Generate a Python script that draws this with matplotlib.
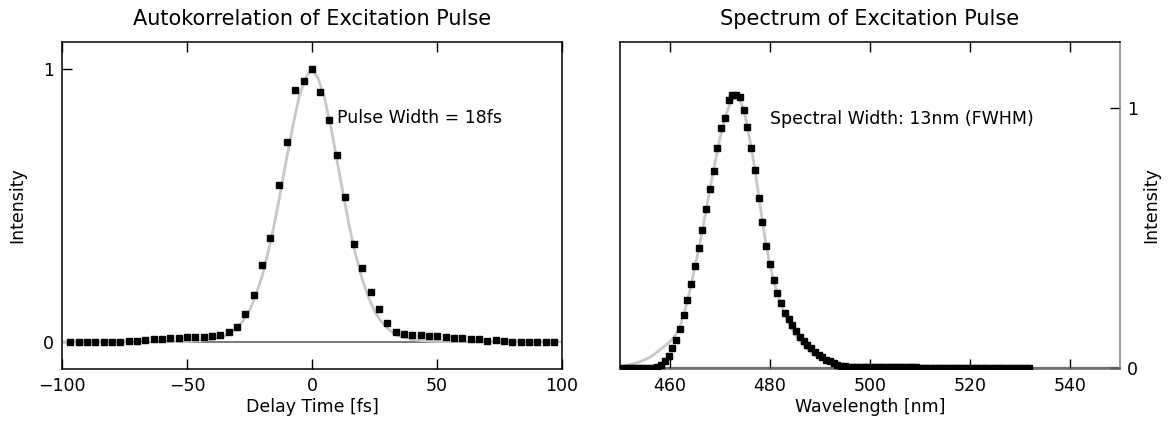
import numpy as np
import matplotlib
matplotlib.use("Agg")
import matplotlib.pyplot as plt

# ---- autocorrelation data (delay in fs, normalised intensity) ----
delay_fs = [-96.7, -93.4, -90.0, -86.7, -83.4, -80.1, -76.7, -73.4, -70.1, -66.7,
            -63.4, -60.1, -56.7, -53.4, -50.1, -46.7, -43.4, -40.1, -36.7, -33.4,
            -30.0, -26.7, -23.4, -20.0, -16.7, -13.3, -10.0, -6.7, -3.3, 0.0,
            3.3, 6.7, 10.0, 13.3, 16.7, 20.0, 23.4, 26.7, 30.0, 33.4,
            36.7, 40.1, 43.4, 46.7, 50.1, 53.4, 56.7, 60.1, 63.4, 66.7,
            70.1, 73.4, 76.7, 80.1, 83.4, 86.7, 90.0, 93.4, 96.7]
ac_points = [0.000, -0.002, 0.000, 0.000, 0.000, 0.000, 0.000, 0.002, 0.002, 0.006,
             0.009, 0.011, 0.015, 0.015, 0.016, 0.017, 0.018, 0.020, 0.024, 0.035,
             0.055, 0.100, 0.172, 0.280, 0.381, 0.576, 0.733, 0.924, 0.955, 1.000,
             0.915, 0.814, 0.684, 0.531, 0.359, 0.271, 0.182, 0.121, 0.070, 0.037,
             0.027, 0.024, 0.023, 0.022, 0.020, 0.017, 0.013, 0.012, 0.011, 0.010,
             0.002, 0.005, 0.004, 0.000, 0.000, 0.000, 0.000, 0.000, 0.000]

# fitted autocorrelation curve
ac_fit_t = [-100, -60, -50, -45, -40, -35, -32.5, -30, -27.5, -25, -22.5, -20, -17.5,
            -15, -12.5, -10, -7.5, -5, -2.5, 0, 2.5, 5, 7.5, 10, 12.5, 15, 17.5, 20,
            22.5, 25, 27.5, 30, 32.5, 35, 40, 45, 50, 60, 100]
ac_fit = [0.0, 0.0, 0.001, 0.003, 0.008, 0.020, 0.032, 0.050, 0.078, 0.115, 0.170,
          0.240, 0.330, 0.435, 0.555, 0.680, 0.800, 0.905, 0.970, 1.000, 0.965, 0.895,
          0.790, 0.665, 0.540, 0.420, 0.318, 0.232, 0.165, 0.112, 0.076, 0.050, 0.032,
          0.020, 0.008, 0.003, 0.001, 0.0, 0.0]

# ---- spectrum data (wavelength in nm, normalised intensity) ----
wavelength_nm = [450.00, 450.75, 451.50, 452.25, 453.00, 453.75, 454.50, 455.25, 456.00, 456.75,
                 457.50, 458.25, 459.00, 459.75, 460.50, 461.25, 462.00, 462.75, 463.50, 464.25,
                 465.00, 465.75, 466.50, 467.25, 468.00, 468.75, 469.50, 470.25, 471.00, 471.75,
                 472.50, 473.25, 474.00, 474.75, 475.50, 476.25, 477.00, 477.75, 478.50, 479.25,
                 480.00, 480.75, 481.50, 482.25, 483.00, 483.75, 484.50, 485.25, 486.00, 486.75,
                 487.50, 488.25, 489.00, 489.75, 490.50, 491.25, 492.00, 492.75, 493.50, 494.25,
                 495.00, 495.75, 496.50, 497.25, 498.00, 498.75, 499.50, 500.25, 501.00, 501.75,
                 502.50, 503.25, 504.00, 504.75, 505.50, 506.25, 507.00, 507.75, 508.50, 509.25,
                 510.00, 510.75, 511.50, 512.25, 513.00, 513.75, 514.50, 515.25, 516.00, 516.75,
                 517.50, 518.25, 519.00, 519.75, 520.50, 521.25, 522.00, 522.75, 523.50, 524.25,
                 525.00, 525.75, 526.50, 527.25, 528.00, 528.75, 529.50, 530.25, 531.00, 531.75]
spec_points = [0.000, 0.000, 0.000, 0.000, 0.000, 0.000, 0.000, 0.001, 0.001, 0.002,
               0.005, 0.012, 0.026, 0.047, 0.077, 0.109, 0.151, 0.205, 0.262, 0.325,
               0.394, 0.463, 0.531, 0.614, 0.688, 0.760, 0.848, 0.925, 0.964, 1.032,
               1.051, 1.051, 1.045, 0.994, 0.926, 0.849, 0.763, 0.656, 0.563, 0.472,
               0.400, 0.341, 0.288, 0.252, 0.211, 0.188, 0.166, 0.143, 0.121, 0.105,
               0.090, 0.077, 0.064, 0.052, 0.042, 0.033, 0.026, 0.019, 0.014, 0.010,
               0.007, 0.005, 0.004, 0.003, 0.003, 0.003, 0.003, 0.003, 0.003, 0.003,
               0.003, 0.003, 0.003, 0.003, 0.003, 0.003, 0.003, 0.003, 0.003, 0.003,
               0.002, 0.002, 0.002, 0.002, 0.002, 0.002, 0.002, 0.002, 0.002, 0.002,
               0.002, 0.002, 0.002, 0.002, 0.002, 0.002, 0.002, 0.002, 0.002, 0.002,
               0.002, 0.002, 0.002, 0.002, 0.002, 0.002, 0.002, 0.001, 0.001, 0.001]

# fitted spectrum curve (grey line)
spec_fit_wl = [450, 451, 452, 453, 454, 455, 456, 457, 458, 459, 460, 461, 462, 463, 464,
               465, 466, 467, 468, 469, 470, 471, 472, 473, 474, 475, 476, 477, 478, 479,
               480, 481, 482, 483, 484, 485, 486, 487, 488, 489, 490, 492, 494, 496, 500,
               510, 532]
spec_fit = [0.005, 0.009, 0.014, 0.019, 0.025, 0.033, 0.043, 0.056, 0.071, 0.086, 0.102,
            0.125, 0.158, 0.222, 0.300, 0.390, 0.480, 0.585, 0.690, 0.790, 0.885, 0.962,
            1.018, 1.045, 1.035, 0.975, 0.875, 0.765, 0.630, 0.500, 0.395, 0.320, 0.255,
            0.205, 0.165, 0.130, 0.104, 0.082, 0.064, 0.050, 0.039, 0.023, 0.013, 0.007,
            0.002, 0.0, 0.0]

FIT_GREY = "#c8c8c8"
ZERO_GREY = "#707070"

plt.rcParams["font.family"] = "DejaVu Sans"
plt.rcParams["font.size"] = 12.5

fig = plt.figure(figsize=(11.68, 4.30), dpi=100)
ax1 = fig.add_axes([0.0531, 0.1419, 0.4281, 0.7605])
ax2 = fig.add_axes([0.5308, 0.1419, 0.4281, 0.7605])

for ax in (ax1, ax2):
    for sp in ax.spines.values():
        sp.set_linewidth(1.1)
    ax.tick_params(direction="in", length=7, width=1.0, top=True, labelsize=12.5, pad=6)

# left panel: autocorrelation
ax1.plot([-100, 100], [0, 0], color=ZERO_GREY, lw=1.3, zorder=1)
ax1.plot(ac_fit_t, ac_fit, color=FIT_GREY, lw=2.0, zorder=2)
ax1.plot(delay_fs, ac_points, "s", color="black", ms=5, zorder=3)
ax1.set_xlim(-100, 100)
ax1.set_ylim(-0.1, 1.1)
ax1.set_xticks([-100, -50, 0, 50, 100])
ax1.set_xticklabels(["\u2212100", "\u221250", "0", "50", "100"])
ax1.set_yticks([0, 1])
ax1.set_xlabel("Delay Time [fs]", labelpad=2)
ax1.set_ylabel("Intensity", labelpad=12)
ax1.set_title("Autokorrelation of Excitation Pulse", pad=12)
ax1.text(10, 0.82, "Pulse Width = 18fs", va="center", ha="left")

# right panel: spectrum
ax2.plot([450, 550], [0, 0], color=ZERO_GREY, lw=1.6, zorder=1, clip_on=False)
ax2.plot(spec_fit_wl, spec_fit, color=FIT_GREY, lw=2.0, zorder=2)
ax2.plot(wavelength_nm, spec_points, "s", color="black", ms=5, zorder=3)
ax2.set_xlim(450, 550)
ax2.set_ylim(-0.003, 1.255)
ax2.set_xticks([460, 480, 500, 520, 540])
ax2.set_yticks([0, 1])
ax2.yaxis.tick_right()
ax2.yaxis.set_label_position("right")
ax2.tick_params(axis="y", left=False, right=True, labelleft=False, labelright=True, pad=5)
ax2.spines["right"].set_color("#808080")
ax2.spines["bottom"].set_color(ZERO_GREY)
ax2.set_xlabel("Wavelength [nm]", labelpad=2)
ax2.set_ylabel("Intensity", labelpad=3)
ax2.set_title("Spectrum of Excitation Pulse", pad=12)
ax2.text(480, 0.96, "Spectral Width: 13nm (FWHM)", va="center", ha="left")

fig.savefig("out.png", dpi=100)
